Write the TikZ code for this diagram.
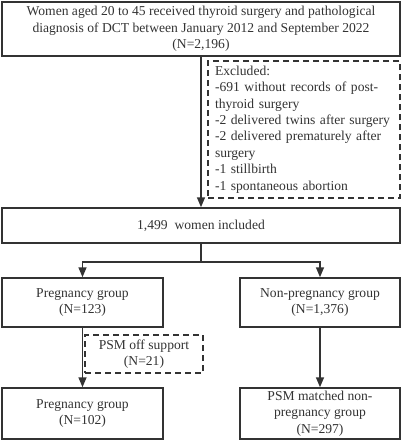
\documentclass[tikz,border=0pt]{standalone}
\usepackage{fontspec}
\setmainfont{Liberation Serif}
\usetikzlibrary{arrows.meta}
\definecolor{ink}{HTML}{333333}

\begin{document}
\begin{tikzpicture}[x=1pt,y=-1pt,font=\fontsize{13.6}{16.4}\selectfont,
  box/.style={rectangle,draw=ink,line width=1.5pt,align=center,inner sep=0pt,text=ink},
  dbox/.style={box,dash pattern=on 6pt off 4pt},
  arr/.style={draw=ink,line width=1.5pt,-{Triangle[length=10pt,width=8pt]}}]
  \useasboundingbox (0,0) rectangle (402,440);
  % boxes
  \node[box,minimum width=398pt,minimum height=54pt] (top) at (201,29)
    {Women aged 20 to 45 received thyroid surgery and pathological\\diagnosis of DCT between January 2012 and September 2022\\(N=2,196)};
  \node[dbox,minimum width=192pt,minimum height=137pt,align=left,text width=178pt,inner xsep=7pt] (excl) at (304,129.5)
    {Excluded:\\-691 without records of post-\\thyroid surgery\\-2 delivered twins after surgery\\-2 delivered prematurely after\\surgery\\-1 stillbirth\\-1 spontaneous abortion};
  \node[box,minimum width=398pt,minimum height=35pt] (incl) at (201,225.5) {1,499~ women included};
  \node[box,minimum width=161pt,minimum height=49pt] (preg) at (82.5,302.5) {Pregnancy group\\(N=123)};
  \node[box,minimum width=160pt,minimum height=49pt] (nonpreg) at (320,302.5) {Non-pregnancy group\\(N=1,376)};
  \node[dbox,minimum width=118pt,minimum height=38pt] (psm) at (144,354) {PSM off support\\(N=21)};
  \node[box,minimum width=161pt,minimum height=51pt] (preg2) at (82.5,413.5) {Pregnancy group\\(N=102)};
  \node[box,minimum width=160pt,minimum height=51pt] (match) at (320,413.5) {PSM matched non-\\pregnancy group\\(N=297)};
  % connectors
  \draw[arr] (top) -- (incl);
  \draw[draw=ink,line width=1.5pt] (incl.south) -- ++(0,18) coordinate (br);
  \draw[arr] (br) -| (preg.north);
  \draw[arr] (br) -| (nonpreg.north);
  \draw[arr] (preg) -- (preg2);
  \draw[arr] (nonpreg) -- (match);
\end{tikzpicture}
\end{document}
